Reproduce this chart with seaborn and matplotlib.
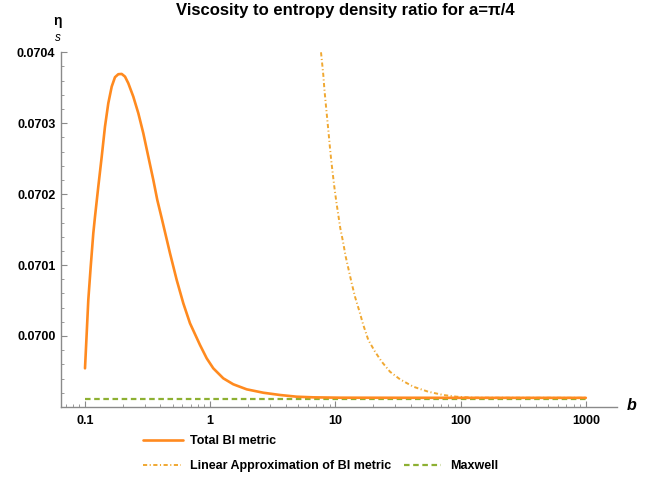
import numpy as np
import pandas as pd
import matplotlib
matplotlib.use("Agg")
import matplotlib.pyplot as plt
import seaborn as sns
from matplotlib.ticker import FixedLocator, NullFormatter, LogLocator, FixedFormatter

# ---- data ----
b_total = [0.1, 0.10318, 0.10626, 0.11105, 0.1165, 0.1202, 0.1277, 0.1360, 0.1444, 0.1535,
           0.1634, 0.1736, 0.1845, 0.1964, 0.2087, 0.2217, 0.2431, 0.2666, 0.2922, 0.3204,
           0.3513, 0.3779, 0.4100, 0.4775, 0.5400, 0.6098, 0.6897, 0.8289, 0.9376, 1.0587,
           1.2725, 1.5291, 1.9567, 2.6558, 3.6113, 4.9085, 6.6603, 10.88, 100.0, 1000.0]
v_total = [0.0699544, 0.0700038, 0.0700508, 0.0700977, 0.0701449, 0.0701683, 0.0702106,
           0.0702529, 0.0702952, 0.0703282, 0.0703516, 0.0703649, 0.0703691, 0.0703695,
           0.0703657, 0.0703564, 0.0703375, 0.0703141, 0.0702859, 0.0702529, 0.0702200,
           0.0701918, 0.0701660, 0.0701166, 0.0700790, 0.0700461, 0.0700179, 0.0699873,
           0.0699685, 0.0699544, 0.0699403, 0.0699319, 0.0699248, 0.0699200, 0.0699168,
           0.0699144, 0.0699135, 0.0699130, 0.0699128, 0.0699128]

b_linear = [7.674, 7.845, 8.005, 8.154, 8.367, 8.568, 8.776, 9.004, 9.223, 9.516, 9.800,
            10.167, 10.548, 10.943, 11.500, 12.086, 12.772, 13.497, 14.337, 15.434, 16.706,
            18.316, 20.721, 23.43, 27.30, 32.81, 41.90, 55.22, 72.75, 93.08, 126.3, 1000.0]
v_linear = [0.0704000, 0.0703836, 0.0703681, 0.0703494, 0.0703282, 0.0703093, 0.0702906,
            0.0702694, 0.0702506, 0.0702295, 0.0702106, 0.0701894, 0.0701707, 0.0701519,
            0.0701330, 0.0701119, 0.0700931, 0.0700743, 0.0700554, 0.0700367, 0.0700155,
            0.0699944, 0.0699779, 0.0699638, 0.0699496, 0.0699389, 0.0699285, 0.0699214,
            0.0699168, 0.0699144, 0.0699130, 0.0699128]

b_maxwell = [0.1, 1000.0]
v_maxwell = [0.0699111, 0.0699111]

y_ticks = [0.0700, 0.0701, 0.0702, 0.0703, 0.0704]
y_ticklabels = ["0.0700", "0.0701", "0.0702", "0.0703", "0.0704"]
x_ticks = [0.1, 1, 10, 100, 1000]
x_ticklabels = ["0.1", "1", "10", "100", "1000"]

title = "Viscosity to entropy density ratio for a=\u03c0/4"
labels = ["Total BI metric", "Linear Approximation of BI metric", "Maxwell"]

# ---- style ----
sns.set_style("white")
plt.rcParams["font.family"] = ["Liberation Sans", "DejaVu Sans"]
plt.rcParams["lines.scale_dashes"] = False
plt.rcParams["text.color"] = "black"

c_total = "#FF8A1F"
c_linear = "#F0A832"
c_maxwell = "#8DB032"
axis_col = "#8a8a8a"
FS = 9

fig = plt.figure(figsize=(6.56, 4.84), dpi=100)
ax = fig.add_axes([61/656, 1-406.7/484, (617-61)/656, (406.7-52.3)/484])

df_t = pd.DataFrame({"b": b_total, "v": v_total})
df_l = pd.DataFrame({"b": b_linear, "v": v_linear})
df_m = pd.DataFrame({"b": b_maxwell, "v": v_maxwell})

sns.lineplot(data=df_m, x="b", y="v", ax=ax, color=c_maxwell, linewidth=1.6,
             linestyle=(0, (4.0, 2.6)), label=labels[2], sort=False, legend=False, zorder=2)
sns.lineplot(data=df_l, x="b", y="v", ax=ax, color=c_linear, linewidth=1.4,
             linestyle=(0, (3.0, 1.8, 0.8, 1.8)), label=labels[1], sort=False, legend=False, zorder=3)
sns.lineplot(data=df_t, x="b", y="v", ax=ax, color=c_total, linewidth=1.9,
             label=labels[0], sort=False, legend=False, zorder=4)
for ln in ax.lines:
    ln.set_solid_joinstyle("round")

ax.set_xscale("log")
ax.set_xlim(10 ** (-1 - 24 / 125.2), 10 ** (-1 + 532 / 125.2))
ax.set_ylim(0.0699003, 0.0704)

ax.xaxis.set_major_locator(FixedLocator(x_ticks))
ax.xaxis.set_major_formatter(FixedFormatter(x_ticklabels))
ax.xaxis.set_minor_locator(LogLocator(base=10, subs=np.arange(2, 10)))
ax.xaxis.set_minor_formatter(NullFormatter())
ax.yaxis.set_major_locator(FixedLocator(y_ticks))
ax.yaxis.set_major_formatter(FixedFormatter(y_ticklabels))
ax.yaxis.set_minor_locator(FixedLocator(np.arange(0.06992, 0.07040, 0.00002)))

for s in ["top", "right"]:
    ax.spines[s].set_visible(False)
for s in ["left", "bottom"]:
    ax.spines[s].set_color(axis_col)
    ax.spines[s].set_linewidth(1.0)

ax.tick_params(which="major", direction="in", length=4, width=0.8, color=axis_col,
               labelsize=FS, labelcolor="black")
ax.tick_params(axis="x", which="major", pad=6)
ax.tick_params(axis="y", which="major", pad=4)
ax.tick_params(which="minor", direction="in", length=2.2, width=0.6, color=axis_col)
ax.tick_params(axis="y", which="both", left=True)
ax.tick_params(axis="x", which="both", bottom=True)
for lab in ax.get_xticklabels() + ax.get_yticklabels():
    lab.set_fontweight("bold")
ax.set_xlabel("")
ax.set_ylabel("")
ax.grid(False)

fig.text(345/656, 1-10/484, title, ha="center", va="center", fontsize=12,
         fontweight="bold", color="black")
fig.text(58/656, 1-21/484, "\u03b7", ha="center", va="center", fontsize=10,
         fontweight="bold", color="black")
fig.text(58/656, 1-38/484, "s", ha="center", va="center", fontsize=8.5,
         fontstyle="italic", color="black")
fig.text(632/656, 1-406/484, "b", ha="center", va="center", fontsize=11.5,
         fontweight="bold", fontstyle="italic", color="black")

handles = {ln.get_label(): ln for ln in ax.lines}
leg1 = ax.legend([handles[labels[0]]], [labels[0]], loc="center left",
                 bbox_to_anchor=(143/656, 1-441/484), bbox_transform=fig.transFigure,
                 frameon=False, borderpad=0, borderaxespad=0, handlelength=3.2,
                 handletextpad=0.55, prop={"size": FS, "weight": "bold"}, labelcolor="black")
ax.add_artist(leg1)
leg2 = ax.legend([handles[labels[1]], handles[labels[2]]], [labels[1], labels[2]],
                 loc="center left", ncol=2,
                 bbox_to_anchor=(143/656, 1-466/484), bbox_transform=fig.transFigure,
                 frameon=False, borderpad=0, borderaxespad=0, handlelength=3.0,
                 handletextpad=0.75, columnspacing=1.0, prop={"size": FS, "weight": "bold"},
                 labelcolor="black")

fig.savefig("out.png", dpi=100)
